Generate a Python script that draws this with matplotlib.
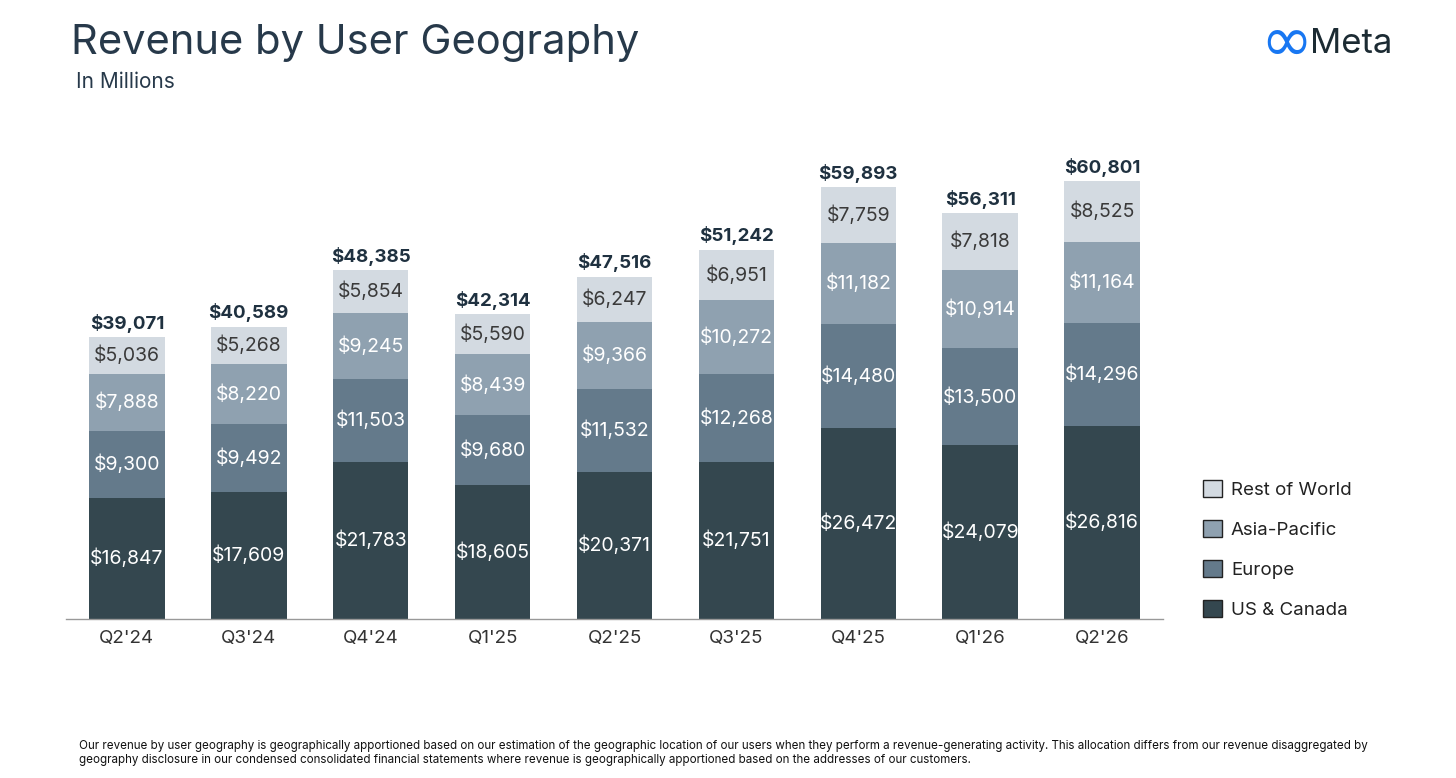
import matplotlib
matplotlib.use("Agg")
import matplotlib.pyplot as plt
from matplotlib.patches import Patch
import numpy as np

quarters = ["Q2'24", "Q3'24", "Q4'24", "Q1'25", "Q2'25", "Q3'25", "Q4'25", "Q1'26", "Q2'26"]
us_canada = [16847, 17609, 21783, 18605, 20371, 21751, 26472, 24079, 26816]
europe = [9300, 9492, 11503, 9680, 11532, 12268, 14480, 13500, 14296]
asia_pacific = [7888, 8220, 9245, 8439, 9366, 10272, 11182, 10914, 11164]
rest_of_world = [5036, 5268, 5854, 5590, 6247, 6951, 7759, 7818, 8525]
totals = [39071, 40589, 48385, 42314, 47516, 51242, 59893, 56311, 60801]

series_names = ["US & Canada", "Europe", "Asia-Pacific", "Rest of World"]
series_vals = [us_canada, europe, asia_pacific, rest_of_world]
colors = ["#34474F", "#647A8B", "#8FA1B0", "#D3DAE1"]
label_colors = ["white", "white", "white", "#3a3a3a"]

plt.rcParams['font.family'] = ['Inter', 'DejaVu Sans']

fig = plt.figure(figsize=(14.56, 7.78), dpi=100)
ax = fig.add_axes([0.0453, 0.2044, 0.7535, 0.602])

x = np.arange(len(quarters))
bottom = np.zeros(len(quarters))
for name, vals, c, lc in zip(series_names, series_vals, colors, label_colors):
    vals = np.array(vals, dtype=float)
    ax.bar(x, vals, bottom=bottom, width=0.62, color=c, label=name, linewidth=0)
    for xi, b, v in zip(x, bottom, vals):
        ax.text(xi, b + v / 2, f"${int(v):,}", ha='center', va='center',
                color=lc, fontsize=14)
    bottom += vals

for xi, t, b in zip(x, totals, bottom):
    ax.text(xi, b + 600, f"${t:,}", ha='center', va='bottom', color='#1f3140',
            fontsize=13.5, fontweight='bold')

ax.set_xlim(-0.5, len(quarters) - 0.5)
ax.set_ylim(0, 65000)
ax.set_xticks(x)
ax.set_xticklabels(quarters, fontsize=13.5, color='#333333')
ax.tick_params(axis='x', length=0, pad=8)
ax.set_yticks([])
for s in ['top', 'right', 'left']:
    ax.spines[s].set_visible(False)
ax.spines['bottom'].set_color('#999999')
ax.spines['bottom'].set_linewidth(1)

handles = [Patch(facecolor=c, edgecolor='#222222', linewidth=1) for c in colors][::-1]
labels = series_names[::-1]
fig.legend(handles, labels, loc='upper left', bbox_to_anchor=(0.8145, 0.405),
           frameon=False, fontsize=13.5, handlelength=1.0, handleheight=1.0,
           labelspacing=1.13, handletextpad=0.5, labelcolor='#222222')

fig.text(0.049, 0.945, "Revenue by User Geography", fontsize=30, color='#27394a',
         ha='left', va='center')
fig.text(0.052, 0.894, "In Millions", fontsize=15, color='#27394a', ha='left', va='center')

fig.text(0.8655, 0.943, "∞", fontsize=45, color='#1877F2', ha='left', va='center',
         family=['DejaVu Sans'])
fig.text(0.9, 0.944, "Meta", fontsize=25, color='#1c2b33', ha='left', va='center')

foot = ("Our revenue by user geography is geographically apportioned based on our estimation of the geographic location of our users when they perform a revenue-generating activity. This allocation differs from our revenue disaggregated by\n"
        "geography disclosure in our condensed consolidated financial statements where revenue is geographically apportioned based on the addresses of our customers.")
fig.text(0.054, 0.032, foot, fontsize=8.35, color='#111111', ha='left', va='center',
         linespacing=1.25)

fig.savefig("out.png", dpi=100)
